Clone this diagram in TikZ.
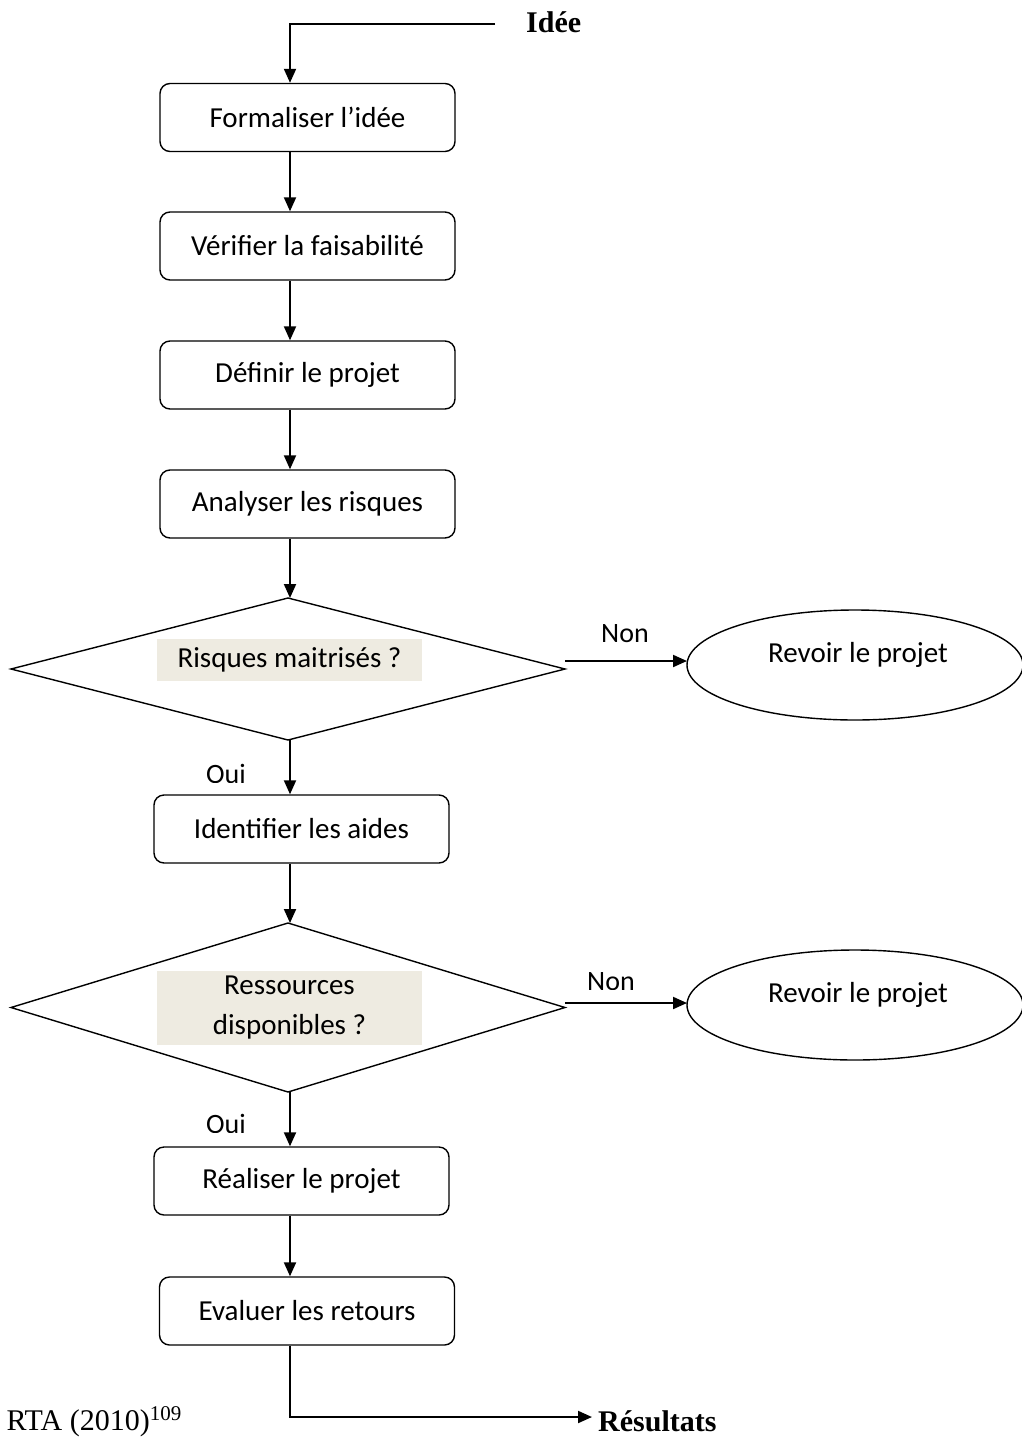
\documentclass[tikz,border=0pt]{standalone}
\usepackage{fontspec}
\setmainfont{Liberation Serif}
\newfontfamily\boxfont{Carlito}
\usetikzlibrary{arrows.meta,shapes.geometric}
\definecolor{qbg}{HTML}{EEEBE1}
\begin{document}
\begin{tikzpicture}[x=1pt,y=-1pt,
  stepbox/.style={draw,line width=1.4pt,rounded corners=10pt,minimum width=295pt,
    minimum height=68pt,inner sep=0pt,font=\boxfont\fontsize{29}{35}\selectfont},
  decision/.style={draw,diamond,line width=1.4pt,inner sep=0pt,outer sep=0pt},
  qlabel/.style={fill=qbg,minimum width=265pt,inner sep=0pt,align=center,
    font=\boxfont\fontsize{29}{40}\selectfont},
  outcome/.style={draw,ellipse,line width=1.4pt,minimum width=336pt,minimum height=110pt,
    inner sep=0pt,outer sep=0pt},
  otext/.style={font=\boxfont\fontsize{29}{35}\selectfont,inner sep=0pt},
  flow/.style={line width=2pt,-{Triangle[length=14pt,width=12pt]}},
  tag/.style={font=\boxfont\fontsize{28}{32}\selectfont,inner sep=0pt},
  endtext/.style={font=\bfseries\fontsize{30}{36}\selectfont,inner sep=0pt}]

\useasboundingbox[fill=white] (0,0) rectangle (1022,1437);

% main column of steps
\coordinate (spine) at (290,0);
\node[stepbox] (b1) at (307.5,117.5) {Formaliser l’idée};
\node[stepbox] (b2) at (307.5,246) {Vérifier la faisabilité};
\node[stepbox] (b3) at (307.5,375) {Définir le projet};
\node[stepbox] (b4) at (307.5,504) {Analyser les risques};
\node[stepbox] (b5) at (301.5,829) {Identifier les aides};
\node[stepbox] (b6) at (301.5,1181) {Réaliser le projet};
\node[stepbox] (b7) at (307,1311) {Evaluer les retours};

% decisions
\node[decision,minimum width=554pt,minimum height=142pt] (d1) at (288,669) {};
\node[qlabel,minimum height=42pt] (q1) at (289.5,660) {Risques maitrisés ?};
\node[decision,minimum width=554pt,minimum height=169pt] (d2) at (288,1007.5) {};
\node[qlabel,minimum height=74pt] (q2) at (289.5,1008) {Ressources\\disponibles ?};

% rejected branches
\node[outcome] (e1) at (855,665) {};
\node[otext,anchor=base] (t1) at (858,662) {Revoir le projet};
\node[outcome] (e2) at (855,1005) {};
\node[otext,anchor=base] (t2) at (858,1002) {Revoir le projet};

% start and end texts
\node[endtext,anchor=base west] (idee) at (526,33) {Idée};
\node[endtext,anchor=base west] (res) at (598,1431) {Résultats};
\node[font=\fontsize{30}{36}\selectfont,inner sep=0pt,anchor=base east] (src) at (182,1430)
  {RTA (2010)\textsuperscript{109}};

% branch labels (their text frames trim the lower edge slightly)
\node[tag] (non1) at (625,634) {Non};
\begin{scope}
  \clip (560,960) rectangle (660,989);
  \node[tag,anchor=base] (non2) at (611,990) {Non};
\end{scope}
\begin{scope}
  \clip (190,750) rectangle (260,782);
  \node[tag,anchor=base] (oui1) at (226,783) {Oui};
\end{scope}
\begin{scope}
  \clip (190,1100) rectangle (260,1132);
  \node[tag,anchor=base] (oui2) at (226,1133) {Oui};
\end{scope}

% connectors
\coordinate (in) at (495,24);
\draw[flow] (in) -- (in -| spine) -- (b1.north -| spine);
\draw[flow] (b1.south -| spine) -- (b2.north -| spine);
\draw[flow] (b2.south -| spine) -- (b3.north -| spine);
\draw[flow] (b3.south -| spine) -- (b4.north -| spine);
\draw[flow] (b4.south -| spine) -- (d1.north -| spine);
\draw[flow] (d1.south -| spine) -- (b5.north -| spine);
\draw[flow] (b5.south -| spine) -- (d2.north -| spine);
\draw[flow] (d2.south -| spine) -- (b6.north -| spine);
\draw[flow] (b6.south -| spine) -- (b7.north -| spine);
\coordinate (n1) at (565,661);
\draw[flow] (n1) -- (n1 -| e1.west);
\coordinate (n2) at (565,1003);
\draw[flow] (n2) -- (n2 -| e2.west);
\coordinate (out) at (592,1417);
\draw[flow] (b7.south -| spine) -- (out -| spine) -- (out);
\end{tikzpicture}
\end{document}
